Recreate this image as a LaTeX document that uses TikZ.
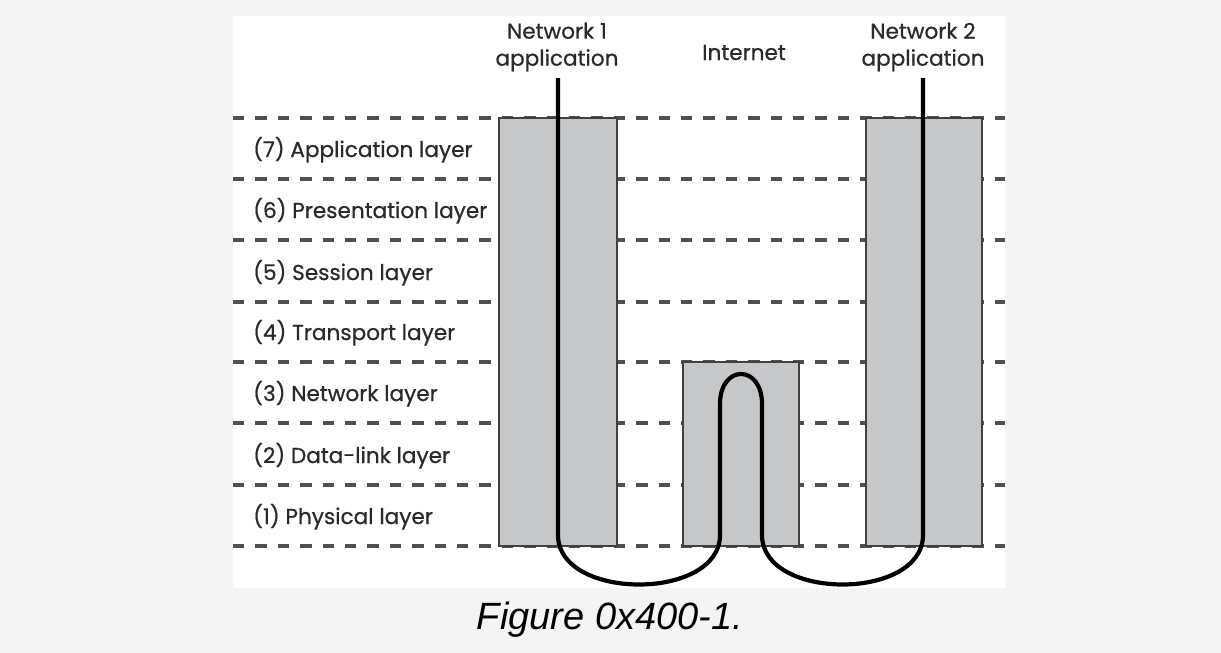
\documentclass[tikz,border=0pt]{standalone}
\usepackage{fontspec}
\setmainfont{Poppins}[FakeBold=0.6]
\newfontfamily\capfont{Liberation Sans}
\definecolor{outerbg}{HTML}{F4F4F4}
\definecolor{boxfill}{HTML}{C6C7C9}
\definecolor{boxline}{HTML}{404040}
\definecolor{dashcol}{HTML}{505050}
\definecolor{txtcol}{HTML}{2A2A2A}
\tikzset{
  layerline/.style={draw=dashcol, line width=3.3pt, dash pattern=on 11.4pt off 11pt},
  stackbox/.style={draw=boxline, fill=boxfill, line width=2.4pt},
  cable/.style={draw=black, line width=4.2pt},
  layerlabel/.style={anchor=base west, inner sep=0pt, text=txtcol, font=\fontsize{21.6}{25}\selectfont},
  toplabel/.style={align=center, inner sep=0pt, text=txtcol, font=\fontsize{21.6}{27}\selectfont},
  caption/.style={inner sep=0pt, text=black, font=\capfont\itshape\fontsize{38}{44}\selectfont}
}
\begin{document}
\begin{tikzpicture}[x=1pt,y=-1pt]
\useasboundingbox (0,0) rectangle (1221,653);
\fill[outerbg] (0,0) rectangle (1221,653);
\fill[white] (233,16) rectangle (1005,588);
% dashed layer lines
\foreach \yy in {118,179,240,302,362,423,485,546}
  \draw[layerline] (233,\yy) -- (1005,\yy);
% boxes
\draw[stackbox] (499,118) rectangle (617,546);
\draw[stackbox] (683,362) rectangle (799,546);
\draw[stackbox] (866,118) rectangle (982,546);
% labels
\node[layerlabel] (l7) at (253,157) {(7) Application layer};
\node[layerlabel] (l6) at (253,218) {(6) Presentation layer};
\node[layerlabel] (l5) at (253,280) {(5) Session layer};
\node[layerlabel] (l4) at (253,340) {(4) Transport layer};
\node[layerlabel] (l3) at (253,401) {(3) Network layer};
\node[layerlabel] (l2) at (253,463) {(2) Data-link layer};
\node[layerlabel] (l1) at (253,524) {(1) Physical layer};
\node[toplabel] (n1) at (557,47) {Network 1\\application};
\node[toplabel, anchor=base] (inet) at (744,60) {Internet};
\node[toplabel] (n2) at (923,47) {Network 2\\application};
\node[caption] (cap) at (610,620) {Figure 0x400-1.};
% cable
\coordinate (c1) at (558,78);
\coordinate (c2) at (923,78);
\draw[cable] (c1) -- (558,535) .. controls (558,601) and (720,601) .. (720,535)
  -- (720,404) .. controls (720,364) and (762,364) .. (762,404)
  -- (762,535) .. controls (762,601) and (923,601) .. (923,535) -- (c2);
\end{tikzpicture}
\end{document}
